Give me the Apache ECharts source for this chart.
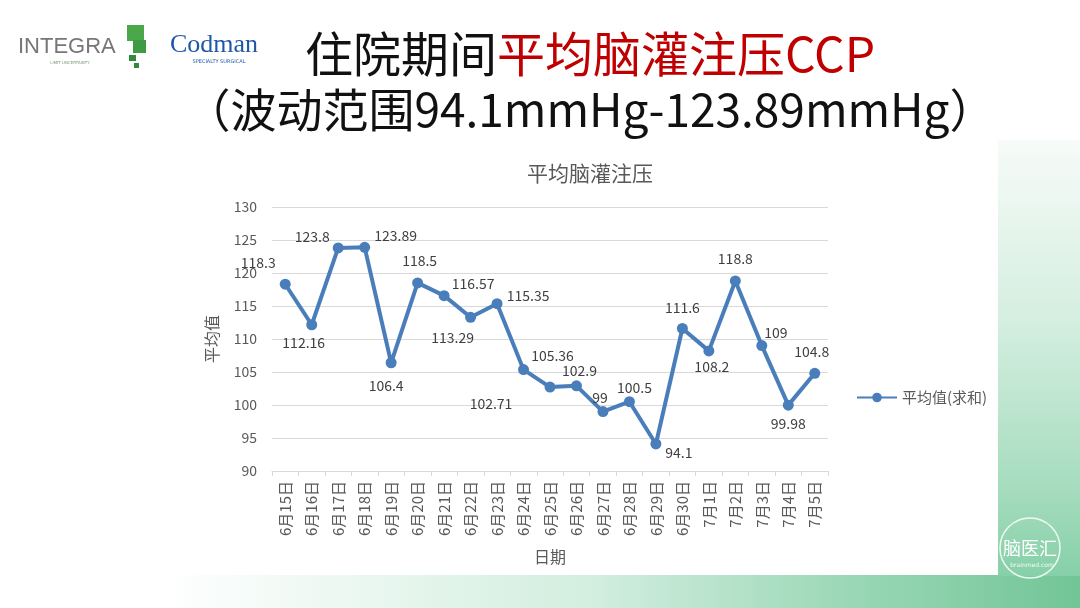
<!DOCTYPE html>
<html>
<head>
<meta charset="utf-8">
<script src="https://cdn.jsdelivr.net/npm/echarts@6/dist/echarts.min.js"></script>
<style>
html,body{margin:0;padding:0;background:#fff;}
#chart{width:1080px;height:608px;}
</style>
</head>
<body>
<div id="chart"></div>
<script>
// ---- data ----
const categories = ['6月15日','6月16日','6月17日','6月18日','6月19日','6月20日','6月21日','6月22日','6月23日','6月24日','6月25日','6月26日','6月27日','6月28日','6月29日','6月30日','7月1日','7月2日','7月3日','7月4日','7月5日'];
const values = [118.3, 112.16, 123.8, 123.89, 106.4, 118.5, 116.57, 113.29, 115.35, 105.36, 102.71, 102.9, 99, 100.5, 94.1, 111.6, 108.2, 118.8, 109, 99.98, 104.8];
const seriesName = '平均值(求和)';
const yTicks = {min: 90, max: 130, interval: 5};
const chartTitle = '平均脑灌注压';
const yAxisName = '平均值';
const xAxisName = '日期';

// ---- label placement (style only) ----
const labelOffsets = [[-27,-22],[-8,18],[-26,-11],[31,-12],[-5,23],[2,-22],[29,-12],[-18,20],[31,-8],[29,-14],[-59,17],[3,-15],[-3,-14],[5,-14],[23,9],[0,-21],[3,16],[0,-22],[14,-13],[0,19],[-3,-22]];

const LINE = '#4a7ebb';
const TXT = '#595959';
const FONT = '"Noto Sans CJK SC", "Noto Sans", sans-serif';

const chart = echarts.init(document.getElementById('chart'), null, {renderer:'canvas'});

const data = values.map((v, i) => ({
  value: v,
  label: {offset: labelOffsets[i]}
}));

chart.setOption({
  backgroundColor: '#ffffff',
  animation: false,
  textStyle: {fontFamily: FONT},
  grid: {left: 272, right: 252, top: 207, bottom: 137, containLabel: false},
  legend: {
    left: 851, top: 385,
    itemWidth: 40, itemHeight: 12, itemGap: 4,
    textStyle: {color: TXT, fontSize: 15, fontFamily: FONT},
    data: [seriesName]
  },
  xAxis: {
    type: 'category',
    data: categories,
    boundaryGap: true,
    name: xAxisName,
    nameLocation: 'middle',
    nameGap: 78,
    nameTextStyle: {color: TXT, fontSize: 16, fontFamily: FONT},
    axisLine: {lineStyle: {color: '#d9d9d9', width: 1}},
    axisTick: {show: true, length: 5, lineStyle: {color: '#d9d9d9'}},
    axisLabel: {rotate: 90, color: TXT, fontSize: 15, margin: 10, fontFamily: FONT, interval: 0}
  },
  yAxis: {
    type: 'value',
    min: yTicks.min, max: yTicks.max, interval: yTicks.interval,
    name: yAxisName,
    nameLocation: 'middle',
    nameGap: 52,
    nameRotate: 90,
    nameTextStyle: {color: TXT, fontSize: 16, fontFamily: FONT},
    axisLine: {show: false},
    axisTick: {show: false},
    axisLabel: {color: TXT, fontSize: 14, margin: 15, fontFamily: FONT},
    splitLine: {lineStyle: {color: '#d9d9d9', width: 1}}
  },
  series: [{
    name: seriesName,
    type: 'line',
    data: data,
    symbol: 'circle',
    symbolSize: 11,
    lineStyle: {color: LINE, width: 4},
    itemStyle: {color: LINE},
    label: {
      show: true,
      position: 'inside',
      color: '#404040',
      fontSize: 14,
      fontFamily: FONT
    }
  }],
  graphic: [
    // green slide background pieces
    {type: 'rect', z: -10, silent: true, shape: {x: 0, y: 575, width: 1080, height: 33},
      style: {fill: new echarts.graphic.LinearGradient(0, 0, 1, 0, [
        {offset: 0, color: '#ffffff'}, {offset: 0.15, color: '#ffffff'},
        {offset: 0.55, color: '#d2eedf'}, {offset: 0.8, color: '#98d6b4'}, {offset: 1, color: '#72c597'}])}},
    {type: 'rect', z: -10, silent: true, shape: {x: 998, y: 140, width: 82, height: 436},
      style: {fill: new echarts.graphic.LinearGradient(0, 0, 0, 1, [
        {offset: 0, color: '#f6fbf8'}, {offset: 0.4, color: '#d6efe1'},
        {offset: 0.8, color: '#a6dcbe'}, {offset: 1, color: '#86d0a8'}])}},
    // watermark
    {type: 'circle', z: -5, silent: true, shape: {cx: 1030, cy: 548, r: 30},
      style: {fill: 'none', stroke: 'rgba(255,255,255,0.85)', lineWidth: 1.5}},
    {type: 'text', z: -4, silent: true, x: 1030, y: 548,
      style: {text: '脑医汇', fill: '#ffffff', font: '18px "Noto Sans CJK SC"', align: 'center', verticalAlign: 'middle'}},
    {type: 'text', z: -4, silent: true, x: 1032, y: 565,
      style: {text: 'brainmed.com', fill: 'rgba(255,255,255,0.9)', font: '6px "DejaVu Sans"', align: 'center', verticalAlign: 'middle'}},
    // logos
    {type: 'text', x: 18, y: 47, style: {text: 'INTEGRA', fill: '#777777', font: '22px "Liberation Sans"', verticalAlign: 'middle'}},
    {type: 'rect', shape: {x: 127, y: 25, width: 17, height: 16}, style: {fill: '#4aa84a'}},
    {type: 'rect', shape: {x: 133, y: 40, width: 13, height: 13}, style: {fill: '#3e9b44'}},
    {type: 'rect', shape: {x: 129, y: 55, width: 7, height: 6}, style: {fill: '#2f8a3e'}},
    {type: 'rect', shape: {x: 134, y: 63, width: 5, height: 5}, style: {fill: '#2f8a3e'}},
    {type: 'text', x: 70, y: 63, style: {text: 'LIMIT UNCERTAINTY', fill: '#7a9a7a', font: '4px "DejaVu Sans"', align: 'center', verticalAlign: 'middle'}},
    {type: 'text', x: 170, y: 45, style: {text: 'Codman', fill: '#1f58a8', font: '26px "Liberation Serif"', verticalAlign: 'middle'}},
    {type: 'text', x: 219, y: 62, style: {text: 'SPECIALTY SURGICAL', fill: '#1f58a8', font: '5px "DejaVu Sans"', align: 'center', verticalAlign: 'middle'}},
    // slide title
    {type: 'text', x: 590, y: 54, style: {
      text: '{a|住院期间}{b|平均脑灌注压CCP}', align: 'center', verticalAlign: 'middle',
      rich: {a: {fill: '#111111', font: '48px "Noto Sans CJK SC"'}, b: {fill: '#c00000', font: '48px "Noto Sans CJK SC"'}}}},
    {type: 'text', x: 590, y: 110, style: {
      text: '（波动范围94.1mmHg-123.89mmHg）', fill: '#111111', font: '46px "Noto Sans CJK SC"', align: 'center', verticalAlign: 'middle'}},
    // chart title
    {type: 'text', x: 590, y: 173, style: {text: chartTitle, fill: TXT, font: '21px "Noto Sans CJK SC"', align: 'center', verticalAlign: 'middle'}}
  ]
});
</script>
</body>
</html>
